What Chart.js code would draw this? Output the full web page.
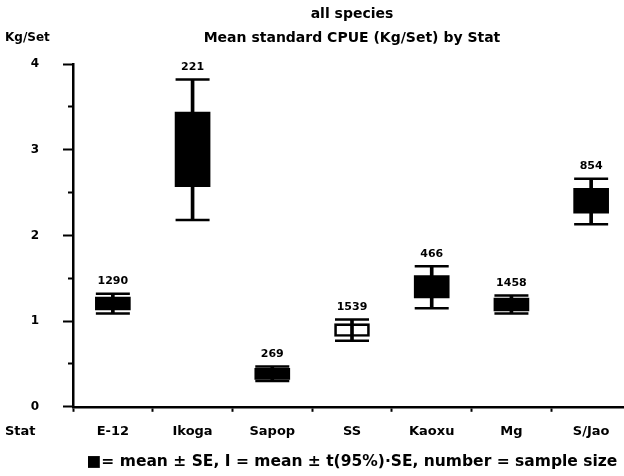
<!DOCTYPE html>
<html>
<head>
<meta charset="utf-8">
<script src="https://cdn.jsdelivr.net/npm/chart.js@4.4.1/dist/chart.umd.min.js"></script>
<style>
  html, body { margin: 0; padding: 0; background: #fff; overflow: hidden; }
  #wrap { width: 632px; height: 476px; }
</style>
</head>
<body>
<div id="wrap"><canvas id="c" width="632" height="476"></canvas></div>
<script>
// data (Kg/Set)
const stats      = ['E-12', 'Ikoga', 'Sapop', 'SS', 'Kaoxu', 'Mg', 'S/Jao'];
const seLow      = [1.13, 2.57, 0.32, 0.82, 1.27, 1.12, 2.26];
const seHigh     = [1.28, 3.44, 0.45, 0.97, 1.53, 1.27, 2.55];
const ciLow      = [1.09, 2.18, 0.30, 0.77, 1.15, 1.09, 2.13];
const ciHigh     = [1.32, 3.82, 0.47, 1.02, 1.64, 1.30, 2.66];
const sampleSize = [1290, 221, 269, 1539, 466, 1458, 854];

const FONT = 'DejaVu Sans';
const INK = '#000';

// sample sizes above the whiskers, plus the two loose axis captions
const extraText = {
  id: 'extraText',
  afterDatasetsDraw(chart) {
    const { ctx, scales: { x, y } } = chart;
    ctx.save();
    ctx.fillStyle = INK;
    ctx.font = 'bold 11px "' + FONT + '"';
    ctx.textAlign = 'center';
    ctx.textBaseline = 'middle';
    sampleSize.forEach(function (n, i) {
      ctx.fillText(String(n), x.getPixelForValue(i), y.getPixelForValue(ciHigh[i]) - 12.5);
    });
    ctx.font = 'bold 12px "' + FONT + '"';
    ctx.textAlign = 'left';
    ctx.fillText('Kg/Set', 5, 38);
    ctx.font = 'bold 13px "' + FONT + '"';
    ctx.fillText('Stat', 5, 432);
    ctx.restore();
  }
};

new Chart(document.getElementById('c'), {
  type: 'bar',
  data: {
    labels: stats,
    datasets: [
      { // whisker stem: mean ± t(95%)·SE
        data: stats.map(function (s, i) { return [ciLow[i], ciHigh[i]]; }),
        backgroundColor: INK,
        barThickness: 3,
        grouped: false,
        order: 3
      },
      { // box: mean ± SE
        data: stats.map(function (s, i) { return [seLow[i], seHigh[i]]; }),
        backgroundColor: stats.map(function (s) { return s === 'SS' ? 'rgba(0,0,0,0)' : INK; }),
        borderColor: INK,
        borderWidth: stats.map(function (s) { return s === 'SS' ? 2 : 0; }),
        borderSkipped: false,
        barThickness: 35,
        grouped: false,
        order: 2
      },
      { // upper caps
        type: 'line',
        data: ciHigh,
        showLine: false,
        pointStyle: 'line',
        pointRadius: 17,
        pointBorderWidth: 2.5,
        pointBorderColor: INK,
        order: 1
      },
      { // lower caps
        type: 'line',
        data: ciLow,
        showLine: false,
        pointStyle: 'line',
        pointRadius: 17,
        pointBorderWidth: 2.5,
        pointBorderColor: INK,
        order: 1
      }
    ]
  },
  options: {
    responsive: false,
    animation: false,
    devicePixelRatio: 1,
    events: [],
    layout: { autoPadding: false, padding: { left: 0, right: 1, top: 0, bottom: 0 } },
    plugins: {
      legend: { display: false },
      tooltip: { enabled: false },
      title: {
        display: true,
        fullSize: false,
        text: ['all species', 'Mean standard CPUE (Kg/Set) by Stat'],
        color: INK,
        font: { family: FONT, size: 14, weight: 'bold', lineHeight: '24px' },
        padding: { top: 2, bottom: 14 }
      },
      subtitle: {
        display: true,
        position: 'bottom',
        fullSize: false,
        text: '\u25A0= mean \u00B1 SE, I = mean \u00B1 t(95%)\u00B7SE, number = sample size',
        color: INK,
        font: { family: FONT, size: 15.5, weight: 'bold' },
        padding: { top: 0, bottom: 5 }
      }
    },
    scales: {
      x: {
        offset: true,
        afterFit: function (scale) { scale.paddingLeft = 0; scale.paddingRight = 0; },
        grid: { offset: true, drawOnChartArea: false, tickLength: 5, tickWidth: 2, tickColor: INK },
        border: { display: true, color: INK, width: 2.5 },
        ticks: {
          color: INK, padding: 12.5, maxRotation: 0, autoSkip: false,
          font: { family: FONT, size: 13, weight: 'bold' }
        }
      },
      y: {
        min: 0,
        max: 4,
        afterFit: function (scale) { scale.width = 73; },
        grid: {
          drawOnChartArea: false,
          tickLength: 10,
          tickWidth: 2,
          tickColor: INK,
          // half-unit ticks are short
          tickBorderDash: function (c) { return Number.isInteger(c.tick.value) ? [] : [0, 5, 6, 40]; }
        },
        border: { display: true, color: INK, width: 2.5 },
        ticks: {
          stepSize: 0.5,
          padding: 24,
          color: INK,
          font: { family: FONT, size: 12, weight: 'bold' },
          callback: function (v) { return Number.isInteger(v) ? v : ''; }
        }
      }
    }
  },
  plugins: [extraText]
});
</script>
</body>
</html>
